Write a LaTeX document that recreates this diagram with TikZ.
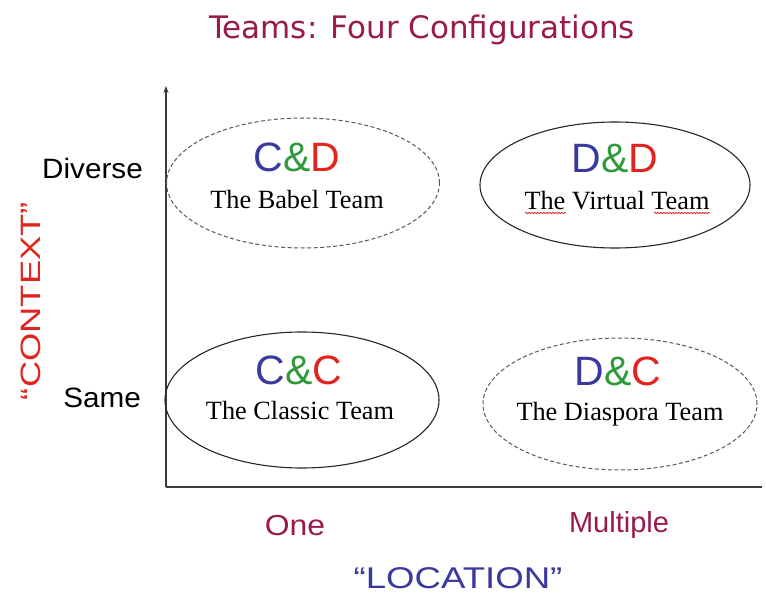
\documentclass[tikz,border=0pt]{standalone}
\usepackage{fontspec}
\setmainfont{Liberation Serif}
\setsansfont{Liberation Sans}
\newfontfamily\titlefont{DejaVu Sans}
\usetikzlibrary{arrows.meta,shapes.geometric,decorations.pathmorphing}
\definecolor{maroon}{HTML}{9A1A4C}
\definecolor{lblue}{HTML}{3A3A9E}
\definecolor{lgreen}{HTML}{2E9A3A}
\definecolor{lred}{HTML}{E2241E}
\definecolor{axisgray}{HTML}{3A3A3A}
\tikzset{
  team/.style={ellipse,draw=black!85,line width=1.1pt,minimum width=272pt,minimum height=130pt,inner sep=0pt},
  dteam/.style={team,draw=black!65,line width=1pt,dash pattern=on 4pt off 2.5pt},
  code/.style={font=\sffamily\fontsize{41}{41}\selectfont,inner sep=0pt},
  tname/.style={font=\rmfamily\fontsize{26.3}{26.3}\selectfont,inner sep=0pt},
  axlbl/.style={font=\sffamily\fontsize{28}{28}\selectfont,inner sep=0pt},
  catlbl/.style={font=\sffamily\fontsize{29}{29}\selectfont,text=maroon,inner sep=0pt}
}
\newcommand{\tri}[3]{\textcolor{lblue}{#1}\textcolor{lgreen}{#2}\textcolor{lred}{#3}}
\begin{document}
\begin{tikzpicture}[x=1pt,y=-1pt]
\useasboundingbox[fill=white] (0,0) rectangle (766,599);
% title
\node[font=\titlefont\fontsize{31}{31}\selectfont,text=maroon,inner sep=0pt] (title) at (422,30) {Teams: Four Configurations};
% axes
\coordinate (origin) at (166,487);
\coordinate (ytop) at (166,86);
\coordinate (xend) at (762,487);
\draw[axisgray,line width=1.3pt,-{Stealth[length=7pt,width=5pt]}] (origin) -- (ytop);
\draw[axisgray,line width=1.6pt] (origin) -- (xend);
% ellipses
\node[dteam,minimum width=273pt,minimum height=130pt] (babel) at (303,183) {};
\node[team,minimum width=270pt,minimum height=126pt] (virtual) at (615,185) {};
\node[team,minimum width=274pt,minimum height=136pt] (classic) at (302,400) {};
\node[dteam,minimum width=274pt,minimum height=132pt] (diaspora) at (620,404) {};
% texts
\node[code] (cd) at (297,157) {\tri{C}{\&}{D}};
\node[tname] (babelT) at (297,200) {The Babel Team};
\node[code] (dd) at (615,159) {\tri{D}{\&}{D}};
\node[tname] (virtT) at (617,201) {The Virtual Team};
\node[code] (cc) at (299,370) {\tri{C}{\&}{C}};
\node[tname] (classT) at (300,411) {The Classic Team};
\node[code] (dc) at (618,371) {\tri{D}{\&}{C}};
\node[tname] (diasT) at (620,414) {The Diaspora Team};
% red spell-check underlines
\coordinate (u1a) at (525,213);
\coordinate (u1b) at (566,213);
\coordinate (u2a) at (654,213);
\coordinate (u2b) at (710,213);
\draw[lred,line width=0.8pt,decorate,decoration={snake,amplitude=0.6pt,segment length=3pt}] (u1a) -- (u1b);
\draw[lred,line width=0.8pt,decorate,decoration={snake,amplitude=0.6pt,segment length=3pt}] (u2a) -- (u2b);
% axis labels
\node[axlbl,anchor=east] (diverse) at (143,168) {\scalebox{1.06}[1]{Diverse}};
\node[axlbl,anchor=east] (same) at (141,398) {\scalebox{1.06}[1]{Same}};
\node[axlbl,text=lred,rotate=90] (context) at (31,301) {\scalebox{1.3}[1]{“CONTEXT”}};
\node[catlbl] (one) at (295,526) {\scalebox{1.1}[1]{One}};
\node[catlbl] (multiple) at (619,525) {Multiple};
\node[axlbl,text=lblue,font=\sffamily\fontsize{30}{30}\selectfont] (location) at (458,578) {\scalebox{1.22}[1]{“LOCATION”}};
\end{tikzpicture}
\end{document}
